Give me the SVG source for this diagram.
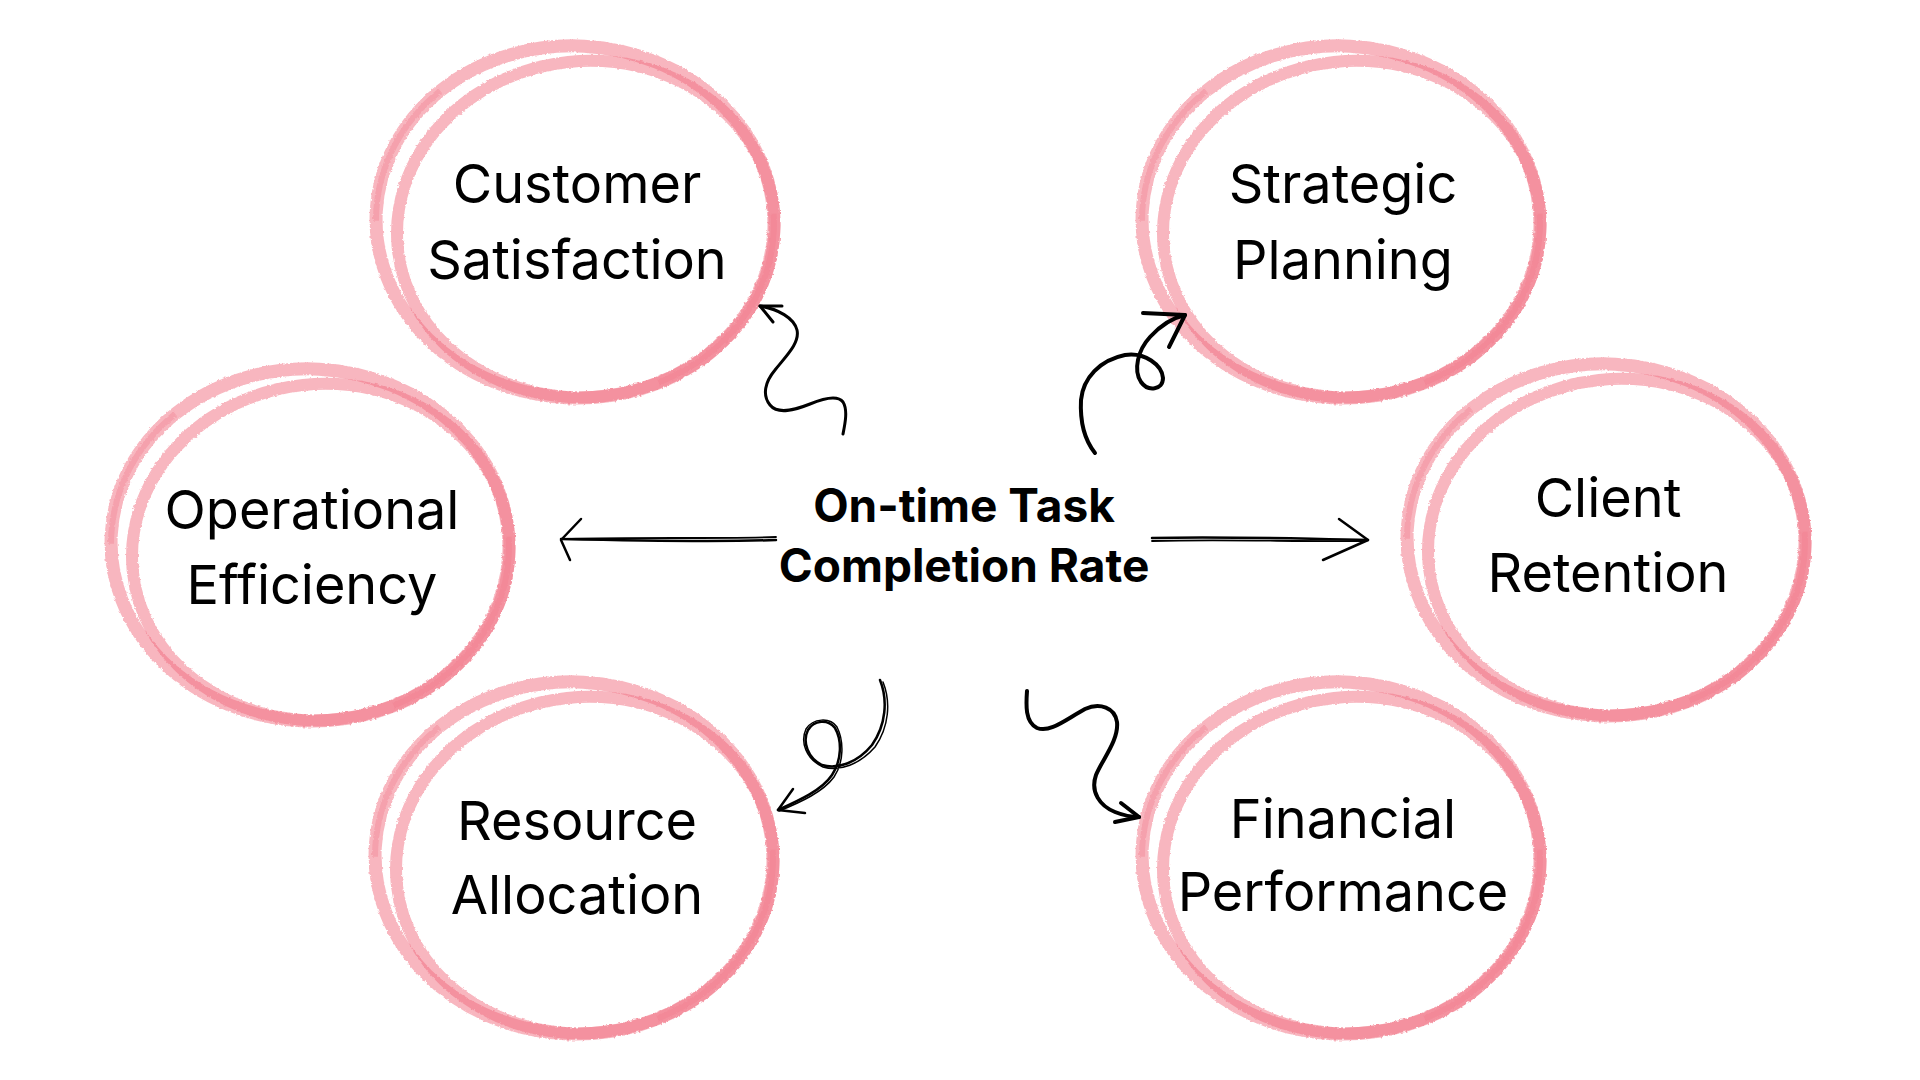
<svg xmlns="http://www.w3.org/2000/svg" xmlns:xlink="http://www.w3.org/1999/xlink" width="1920" height="1080" viewBox="0 0 1920 1080">
<style>
.lbl{font-family:Inter,"Liberation Sans",sans-serif;font-size:54px;fill:#000;text-anchor:middle}
.ctr{font-family:Inter,"Liberation Sans",sans-serif;font-size:46px;font-weight:700;fill:#000;text-anchor:middle}
.ln{fill:none;stroke:#000;stroke-linecap:round;stroke-linejoin:round}
.ringA{fill:none;stroke:rgb(241,109,127);stroke-opacity:0.5;stroke-width:13}
.ringB{fill:none;stroke:rgb(241,109,127);stroke-opacity:0.5;stroke-width:12}
.ringD{fill:none;stroke:#f07a8d;stroke-opacity:0.35;stroke-width:6;stroke-dasharray:200 380 150 430}
</style>
<defs>
<filter id="rough" x="-10%" y="-10%" width="120%" height="120%">
<feTurbulence type="fractalNoise" baseFrequency="0.35" numOctaves="2" seed="3" result="n"/>
<feDisplacementMap in="SourceGraphic" in2="n" scale="3" xChannelSelector="R" yChannelSelector="G"/>
</filter>
<g id="ring" filter="url(#rough)">
<ellipse class="ringA" cx="-2" cy="0" rx="199" ry="176" transform="rotate(3)"/>
<ellipse class="ringB" cx="8" cy="8" rx="189" ry="168" transform="rotate(-6)"/>
<ellipse class="ringD" cx="-2" cy="0" rx="199" ry="176" transform="rotate(3)"/>
</g>
</defs>
<rect width="1920" height="1080" fill="#fff"/>
<g id="node-customer">
<use xlink:href="#ring" href="#ring" transform="translate(577,222)"/>
<text class="lbl" x="577" y="203">Customer</text>
<text class="lbl" x="577" y="279">Satisfaction</text>
</g>
<g id="node-strategic">
<use xlink:href="#ring" href="#ring" transform="translate(1343,222)"/>
<text class="lbl" x="1343" y="203">Strategic</text>
<text class="lbl" x="1343" y="279">Planning</text>
</g>
<g id="node-operational">
<use xlink:href="#ring" href="#ring" transform="translate(312,545)"/>
<text class="lbl" x="312" y="529">Operational</text>
<text class="lbl" x="312" y="604">Efficiency</text>
</g>
<g id="node-client">
<use xlink:href="#ring" href="#ring" transform="translate(1608,540)"/>
<text class="lbl" x="1608" y="517">Client</text>
<text class="lbl" x="1608" y="592">Retention</text>
</g>
<g id="node-resource">
<use xlink:href="#ring" href="#ring" transform="translate(576,858)"/>
<text class="lbl" x="577" y="840">Resource</text>
<text class="lbl" x="577" y="914">Allocation</text>
</g>
<g id="node-financial">
<use xlink:href="#ring" href="#ring" transform="translate(1343,858)"/>
<text class="lbl" x="1343" y="838">Financial</text>
<text class="lbl" x="1343" y="911">Performance</text>
</g>
<g id="node-center">
<text class="ctr" x="964" y="522">On-time Task</text>
<text class="ctr" x="964" y="582">Completion Rate</text>
</g>
<g id="connectors">
<path class="ln" stroke-width="3" d="M843,434 C845,424 848,410 843,402 C837,394 822,399 810,404 C795,410 778,415 770,405 C762,395 765,382 775,370 C786,356 800,343 797,330 C794,318 778,309 760,306"/>
<path class="ln" stroke-width="3" d="M782,306 L760,306 L773,322"/>
<path class="ln" stroke-width="4" d="M1095,453 C1083,438 1080,420 1081,400 C1083,378 1100,360 1125,355 C1145,352 1162,365 1163,378 C1163,390 1148,392 1141,382 C1133,370 1138,350 1150,337 C1160,326 1172,318 1185,315"/>
<path class="ln" stroke-width="4" d="M1143,313 L1185,315 L1169,347"/>
<path class="ln" stroke-width="2.5" d="M776,540 C720,542 650,541 561,539"/>
<path class="ln" stroke-width="1.8" d="M776,537 C710,539 640,537 566,539"/>
<path class="ln" stroke-width="2.5" d="M581,519 L561,540 L570,560"/>
<path class="ln" stroke-width="2.5" d="M1152,538 C1230,536 1300,539 1368,540"/>
<path class="ln" stroke-width="1.8" d="M1152,541 C1230,539 1300,542 1364,541"/>
<path class="ln" stroke-width="2.5" d="M1339,519 L1368,540 L1323,560"/>
<path class="ln" stroke-width="2.5" d="M880,680 C888,700 886,725 872,745 C858,762 838,770 822,765 C808,758 802,742 808,730 C814,720 828,719 835,728 C842,740 842,760 832,775 C822,790 800,800 778,810"/>
<path class="ln" stroke-width="1.5" d="M883,682 C891,702 889,727 875,747 C860,764 840,772 823,767 C806,759 800,742 806,729 C813,718 830,717 837,727 C844,741 844,762 834,777 C823,792 801,802 779,811"/>
<path class="ln" stroke-width="2.5" d="M793,789 L778,810 L805,813"/>
<path class="ln" stroke-width="4" d="M1027,691 C1026,705 1025,722 1037,728 C1050,733 1065,720 1085,709 C1100,702 1115,708 1117,722 C1119,740 1102,760 1096,775 C1090,792 1100,806 1115,812 C1125,816 1132,817 1139,817"/>
<path class="ln" stroke-width="4" d="M1121,803 L1139,817 L1115,822"/>
</g>
</svg>
